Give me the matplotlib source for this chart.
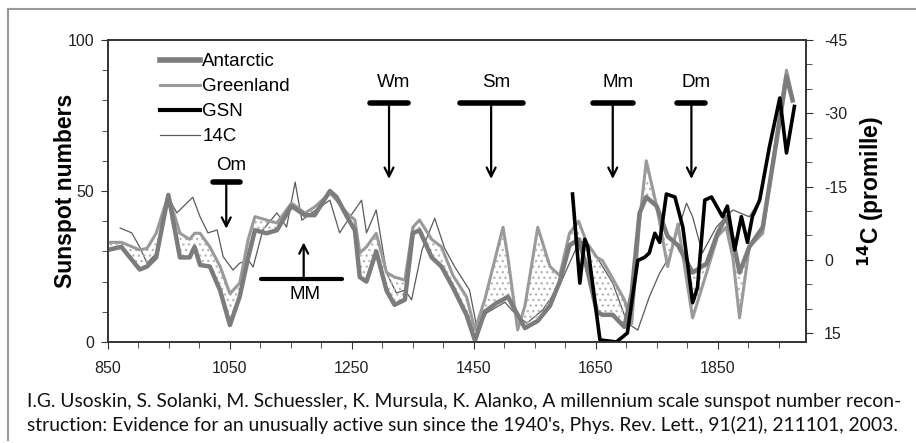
import numpy as np
import matplotlib.pyplot as plt
from matplotlib.lines import Line2D

# ice core reconstructions (sunspot numbers), common year grid
years_ice = [850, 872, 902, 914, 929, 949, 968, 984, 992, 1001, 1017, 1034, 1050, 1066,
             1080, 1091, 1110, 1127, 1151, 1173, 1189, 1214, 1225, 1242, 1255, 1263, 1274,
             1290, 1307, 1320, 1337, 1350, 1361, 1381, 1397, 1416, 1438, 1452, 1468, 1488,
             1498, 1506, 1522, 1534, 1555, 1575, 1591, 1607, 1622, 1635, 1652, 1661, 1678,
             1697, 1709, 1722, 1733, 1750, 1768, 1785, 1809, 1832, 1850, 1864, 1875, 1886,
             1902, 1924, 1947, 1963, 1973]
antarctic = [30.5, 31.5, 24, 25, 28, 48.7, 28, 28, 31.5, 25.5, 25, 17, 5.6, 15,
             28, 37, 36, 37, 45, 42, 42, 50, 48, 41.5, 37, 21.5, 20,
             30, 17, 12.3, 14, 36, 37, 28, 25, 18, 9, 0.5, 10, 13,
             14, 15, 9, 4.6, 7, 12, 20, 32, 34, 25, 10, 9, 9,
             5, 16, 42.7, 48, 45, 35, 32, 23, 26, 36, 41.5, 34, 23,
             31.5, 38, 67, 88, 80]
greenland = [33, 33, 30.5, 31, 36, 48.7, 36, 34, 36, 36, 31.5, 25, 16, 19.5,
             34, 41.5, 40.4, 39.4, 46, 42.7, 44.7, 49.3, 47, 42.7, 40.4, 29.5, 31.5,
             36, 23, 21.5, 20.5, 38, 40.4, 34, 31.5, 22, 15, 4, 14, 30,
             38, 28, 4, 12, 38, 25, 22, 36, 40, 33, 28, 27, 21,
             14, 6, 40, 60, 45, 25, 39, 8, 23, 35, 38, 28, 8,
             31.5, 36, 69, 90, 81]

# group sunspot number
years_gsn = [1612, 1624, 1632, 1637, 1657, 1684, 1702, 1719, 1730, 1738, 1747, 1755,
             1766, 1780, 1793, 1809, 1817, 1829, 1840, 1858, 1866, 1878, 1889, 1899,
             1907, 1919, 1935, 1952, 1963, 1976]
gsn = [49, 19.5, 34, 31.5, 0.7, 0, 3, 27, 28, 29.5, 36, 33,
       49, 48, 38, 13, 18, 47, 48, 41.5, 45, 30.5, 41.5, 33,
       41.5, 47, 64.6, 80.8, 62.6, 78]

# 14C (promille, right axis)
years_c14 = [870, 889, 902, 914, 930, 949, 963, 989, 1001, 1014, 1029, 1039, 1055, 1066,
             1080, 1088, 1104, 1127, 1143, 1157, 1168, 1184, 1214, 1230, 1247, 1266, 1274,
             1290, 1307, 1323, 1337, 1348, 1365, 1386, 1402, 1419, 1443, 1456, 1471, 1501,
             1520, 1537, 1563, 1591, 1607, 1624, 1645, 1678, 1702, 1719, 1738, 1755, 1771,
             1799, 1809, 1825, 1848, 1875, 1902, 1919]
c14 = [-6.5, -5.5, -2.6, 0.7, -1.4, -12.8, -9.6, -12.8, -8.8, -5.5, -6.1, -0.6, 2.1, 0.7,
       0.0, 1.5, -6.1, -9.6, -6.7, -15.9, -8.1, -9.6, -12.2, -5.5, -8.8, -12.2, -5.5,
       -10.2, 2.7, 6.8, 6.2, 8.2, -2.0, -8.5, -2.4, 1.5, 6.2, 14.4, 10.9, 8.7,
       11.3, 13.0, 10.3, 5.2, 0.7, -4.0, -2.0, 4.8, 13.0, 14.4, 7.6, 2.7, -0.6,
       -11.6, -8.8, -1.4, -6.7, -10.2, -8.8, -12.2]

# minima: label, bar start, bar end, bar level, arrow tip, label level
minima = [("Wm", 1280, 1342, 79, 54, 86),
          ("Sm", 1427, 1530, 79, 54, 86),
          ("Mm", 1645, 1711, 79, 54, 86),
          ("Dm", 1784, 1830, 79, 54, 86),
          ("Om", 1022, 1066, 53, 37.5, 58.6)]

plt.rcParams['font.family'] = ['Liberation Sans', 'DejaVu Sans']
plt.rcParams['axes.unicode_minus'] = False

fig = plt.figure(figsize=(9.16, 4.43), dpi=100)
ax = fig.add_axes([108/916, 1 - 342/443, 698/916, 302/443])
ax2 = ax.twinx()
# sunspot curves above the 14C line
ax.set_zorder(ax2.get_zorder() + 1)
ax.patch.set_visible(False)

ax2.plot(years_c14, c14, color='#5a5a5a', lw=0.9)
ax.fill_between(years_ice, antarctic, greenland, facecolor='none', hatch='...',
                edgecolor='#b8b8b8', linewidth=0)
ax.plot(years_ice, greenland, color='#9a9a9a', lw=2.2)
ax.plot(years_ice, antarctic, color='#7c7c7c', lw=3.2)
ax.plot(years_gsn, gsn, color='black', lw=2.6)

ax.set_xlim(850, 1995)
ax.set_ylim(0, 100)
ax2.set_ylim(16.84, -45)

ax.set_xticks(np.arange(850, 1951, 200))
ax.set_xticks(np.arange(850, 1995, 50), minor=True)
ax.set_yticks([0, 50, 100])
ax.set_yticks(np.arange(0, 101, 10), minor=True)
ax2.set_yticks([-45, -30, -15, 0, 15])
ax2.set_yticks(np.arange(-45, 16, 5), minor=True)

for a in (ax, ax2):
    a.tick_params(which='both', direction='out', labelsize=11.5, color='#333333',
                  labelcolor='#222222')
    a.tick_params(which='major', length=5)
    a.tick_params(which='minor', length=4)
    for s in a.spines.values():
        s.set_color('#333333')
        s.set_linewidth(1.2)
ax.tick_params(axis='x', pad=9)
ax.tick_params(axis='y', pad=5)
ax2.tick_params(axis='y', pad=8)

ax.set_ylabel("Sunspot numbers", fontsize=16.5, fontweight='bold', labelpad=-7)
ax2.set_ylabel(r"$\mathbf{^{14}}$C (promille)", fontsize=16.5, fontweight='bold', labelpad=6)

for name, x1, x2, ybar, ytip, ylab in minima:
    xc = (x1 + x2) / 2
    ax.plot([x1, x2], [ybar, ybar], color='black', lw=4, solid_capstyle='round')
    ax.annotate('', xy=(xc, ytip), xytext=(xc, ybar),
                arrowprops=dict(arrowstyle='->', color='black', lw=1.6,
                                mutation_scale=16, shrinkA=0, shrinkB=0))
    ax.text(xc + 8, ylab, name, ha='center', va='center', fontsize=13.5)

# Maunder minimum, arrow pointing up
ax.plot([1101, 1234], [21, 21], color='black', lw=3, solid_capstyle='round')
ax.annotate('', xy=(1171, 33), xytext=(1171, 21),
            arrowprops=dict(arrowstyle='->', color='black', lw=1.6,
                            mutation_scale=16, shrinkA=0, shrinkB=0))
ax.text(1173, 15.6, "MM", ha='center', va='center', fontsize=13.5)

handles = [Line2D([], [], color='#7c7c7c', lw=4),
           Line2D([], [], color='#9a9a9a', lw=2.2),
           Line2D([], [], color='black', lw=3),
           Line2D([], [], color='#5a5a5a', lw=0.9)]
ax.legend(handles, ["Antarctic", "Greenland", "GSN", "14C"], loc='upper left',
          bbox_to_anchor=(0.056, 1.0), frameon=False, fontsize=13.5,
          handlelength=2.1, handletextpad=0.15, labelspacing=0.42, borderaxespad=0.3)

line1 = ("I.G. Usoskin, S. Solanki, M. Schuessler, K. Mursula, K. Alanko, "
         "A millennium scale sunspot number recon-")
line2 = ("struction: Evidence for an unusually active sun since the 1940's, "
         "Phys. Rev. Lett., 91(21), 211101, 2003.")
fig.text(27/916, 1 - 407/443, line1, fontsize=13.9, family='Lato', va='baseline',
         ha='left', color='#111111')
fig.text(27/916, 1 - 431/443, line2, fontsize=13.9, family='Lato', va='baseline',
         ha='left', color='#111111')

# page frame
fig.add_artist(Line2D([8/916, 8/916], [1 - 440/443, 1 - 9/443], color='#999999', lw=1.5))
fig.add_artist(Line2D([8/916, 1], [1 - 9/443, 1 - 9/443], color='#999999', lw=1.5))

fig.savefig("out.png", dpi=100)
